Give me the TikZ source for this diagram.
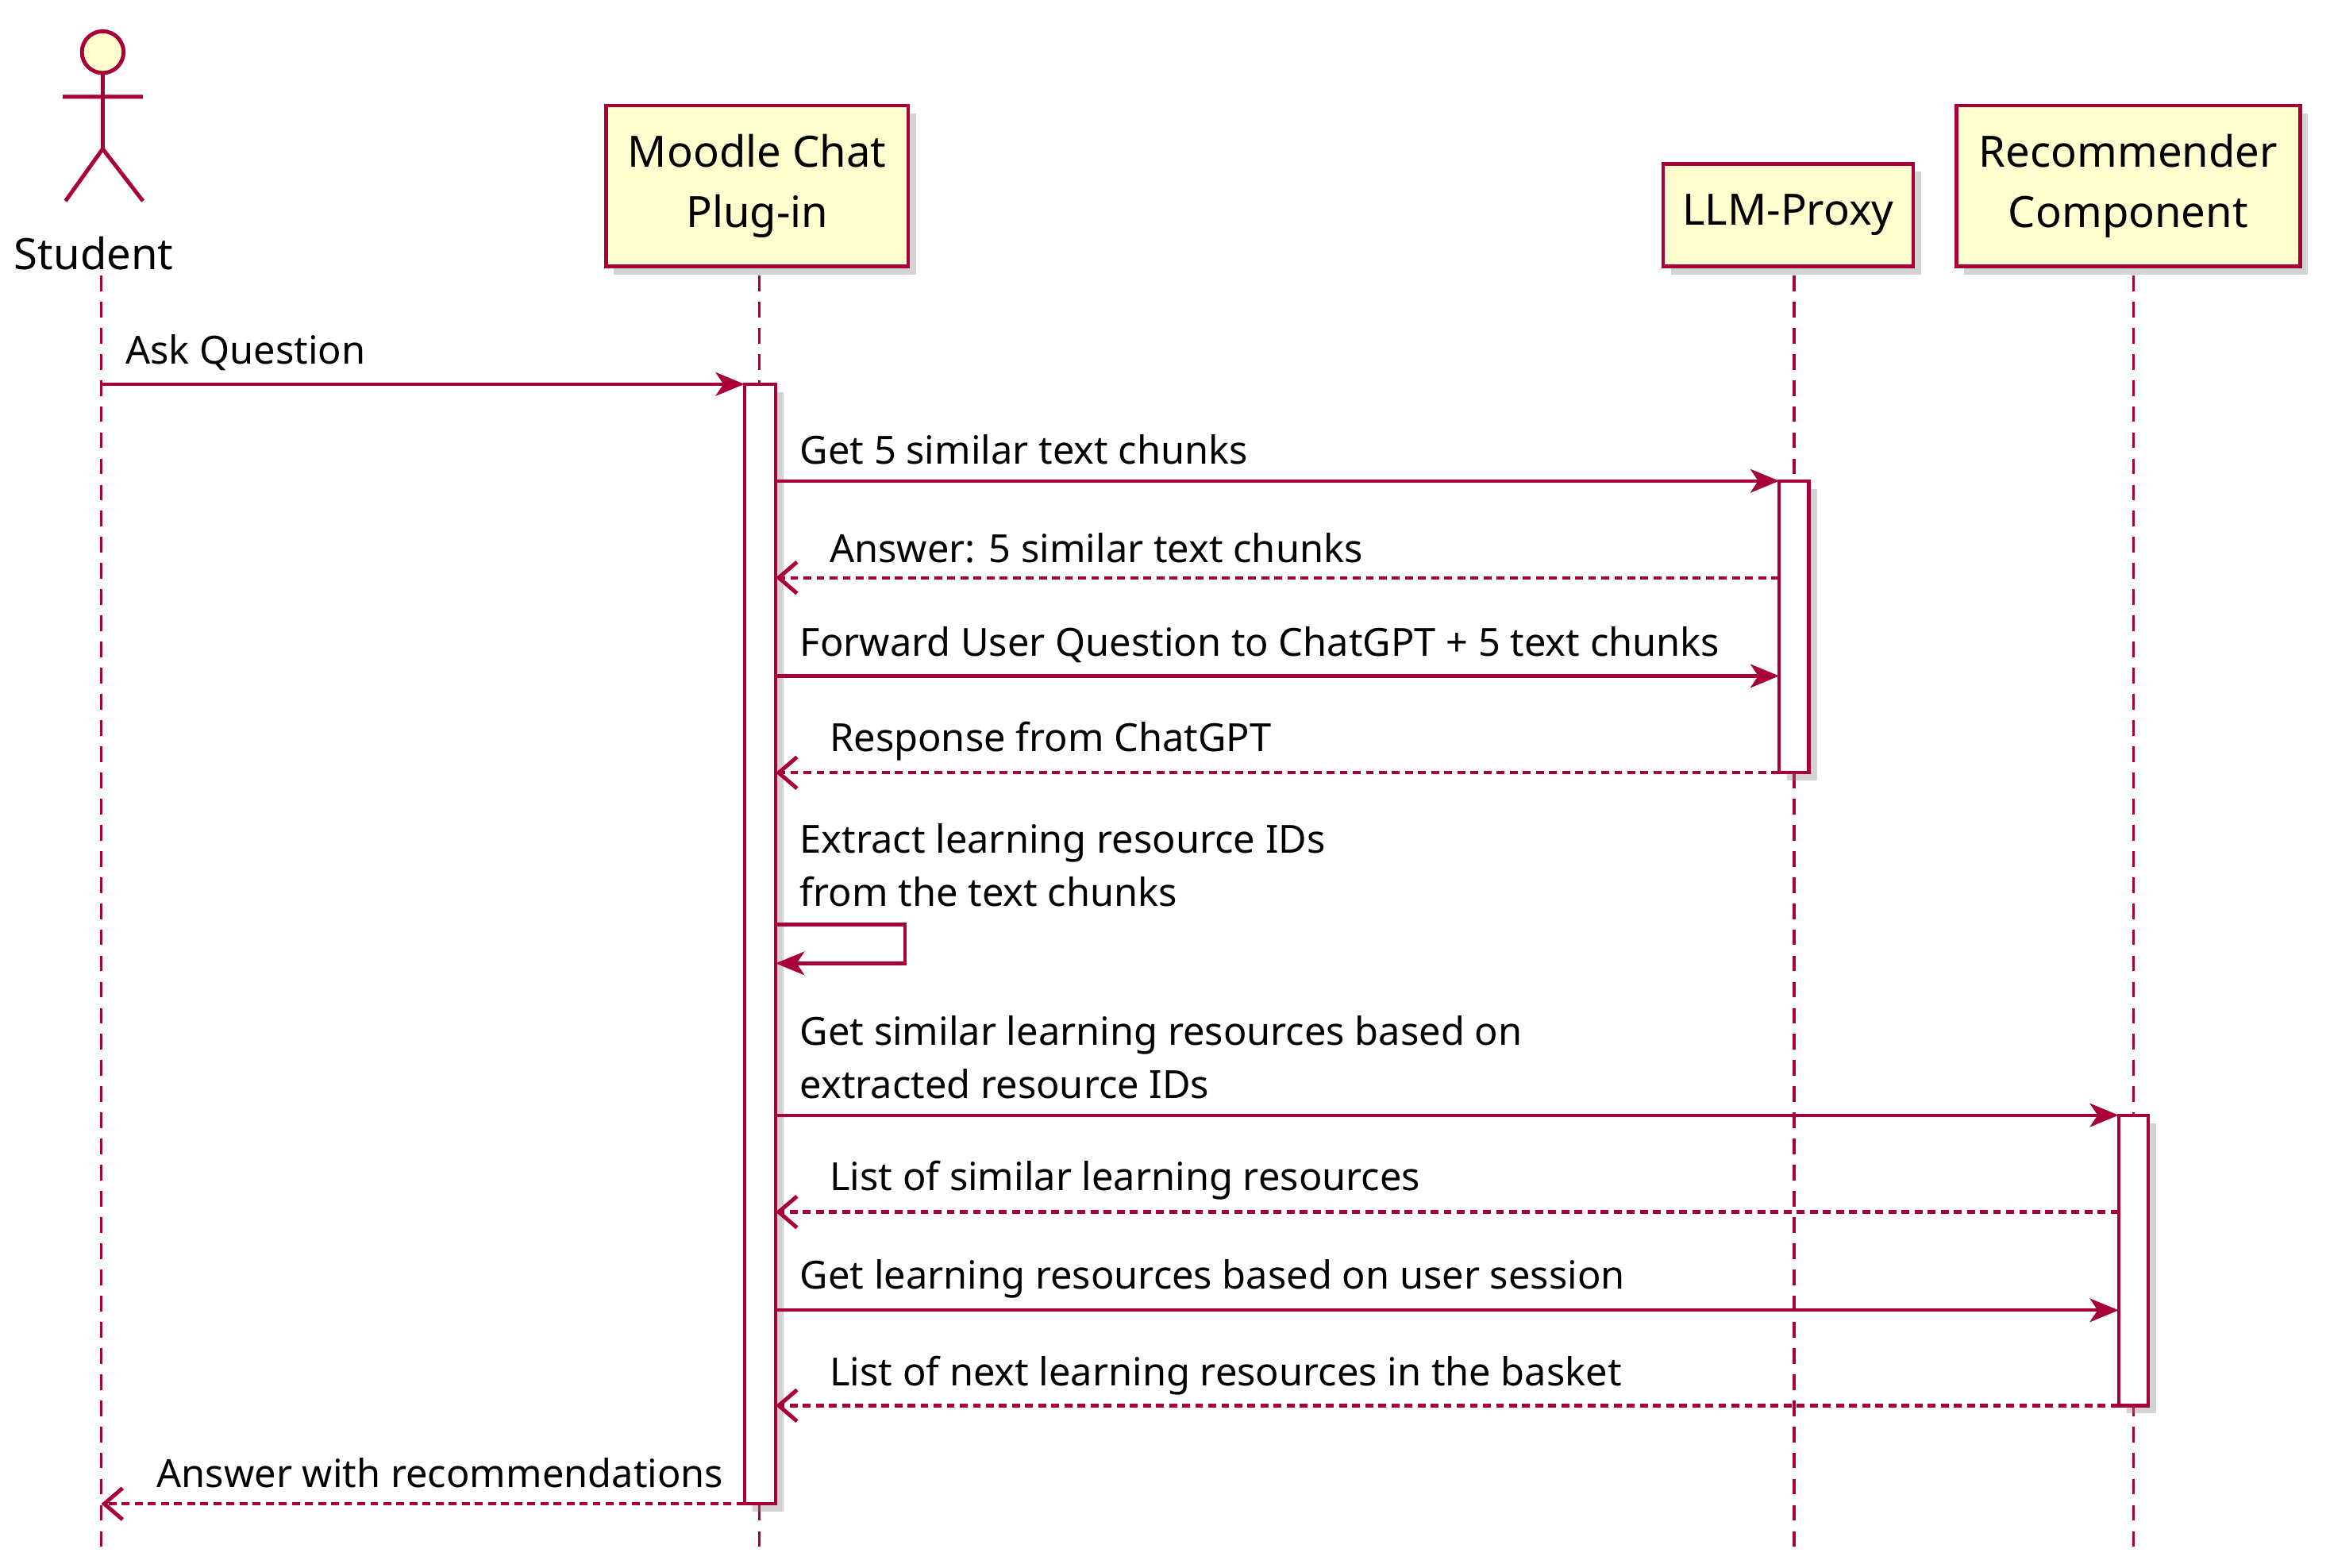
\documentclass[tikz,border=0pt]{standalone}
\usepackage{fontspec}
\setmainfont{Noto Sans}
\usetikzlibrary{arrows.meta,shadows}
\definecolor{bd}{HTML}{A80036}
\definecolor{bg}{HTML}{FEFECE}
\begin{document}
\begin{tikzpicture}[x=0.02cm,y=-0.02cm,
  part/.style={draw=bd,fill=bg,line width=1.4pt,drop shadow={opacity=0.35,shadow xshift=3pt,shadow yshift=-3pt},align=center,font=\fontsize{16.5}{23}\selectfont,inner sep=0pt},
  life/.style={draw=bd,line width=1pt,dash pattern=on 6pt off 4pt},
  act/.style={draw=bd,fill=white,line width=1.3pt,drop shadow={opacity=0.35,shadow xshift=3pt,shadow yshift=-3pt}},
  msg/.style={draw=bd,line width=1.3pt,-{Stealth[length=11pt,width=9pt,inset=3pt]}},
  ret/.style={draw=bd,line width=1.3pt,dash pattern=on 3pt off 2pt,-{Straight Barb[length=7pt,width=12pt,line width=1.5pt]}},
  lbl/.style={anchor=west,font=\fontsize{14.8}{20.5}\selectfont,inner sep=0pt,align=left}]
\useasboundingbox (0,0) rectangle (1565,1053);
% lifelines
\coordinate (s1) at (68,185); \coordinate (s2) at (68,1043);
\coordinate (m1) at (510,185); \coordinate (m2) at (510,1043);
\coordinate (l1) at (1205,185); \coordinate (l2) at (1205,1043);
\coordinate (r1) at (1433,185); \coordinate (r2) at (1433,1043);
\draw[life] (s1)--(s2); \draw[life] (m1)--(m2); \draw[life] (l1)--(l2); \draw[life] (r1)--(r2);
% actor
\draw[bd,line width=1.5pt,fill=bg] (69,35) circle (14);
\draw[bd,line width=1.5pt] (69,49)--(69,100) (42,65)--(96,65) (44,135)--(69,100)--(96,135);
\node[font=\fontsize{16.5}{20}\selectfont,inner sep=0pt] (student) at (63,170) {Student};
% participants
\node[part,minimum width=4.06cm,minimum height=2.16cm] (moodle) at (508.5,125) {Moodle Chat\\Plug-in};
\node[part,minimum width=3.36cm,minimum height=1.38cm] (llm) at (1201,144.5) {LLM-Proxy};
\node[part,minimum width=4.62cm,minimum height=2.16cm] (rec) at (1429.5,125) {Recommender\\Component};
% activations
\draw[act] (500,258) rectangle (521,1010);
\draw[act] (1195,323) rectangle (1215,519);
\draw[act] (1423,749) rectangle (1443,944);
% messages
\coordinate (a1) at (68,258); \coordinate (a2) at (500,258);
\draw[msg] (a1)--(a2); \node[lbl] (t1) at (84,237) {Ask Question};
\coordinate (b1) at (521,323); \coordinate (b2) at (1195,323);
\draw[msg] (b1)--(b2); \node[lbl] (t2) at (537,302) {Get 5 similar text chunks};
\coordinate (c1) at (1195,388); \coordinate (c2) at (521,388);
\draw[ret] (c1)--(c2); \node[lbl] (t3) at (557,368) {Answer: 5 similar text chunks};
\coordinate (d1) at (521,454); \coordinate (d2) at (1195,454);
\draw[msg] (d1)--(d2); \node[lbl] (t4) at (537,433) {Forward User Question to ChatGPT + 5 text chunks};
\coordinate (e1) at (1195,519); \coordinate (e2) at (521,519);
\draw[ret] (e1)--(e2); \node[lbl] (t5) at (557,498) {Response from ChatGPT};
\node[lbl] (t6) at (537,581) {Extract learning resource IDs\\from the text chunks};
\coordinate (f1) at (521,621); \coordinate (f2) at (521,647);
\draw[msg] (f1)--(608,621)--(608,647)--(f2);
\node[lbl] (t7) at (537,710) {Get similar learning resources based on\\extracted resource IDs};
\coordinate (g1) at (521,749); \coordinate (g2) at (1423,749);
\draw[msg] (g1)--(g2);
\coordinate (h1) at (1423,814); \coordinate (h2) at (521,814);
\draw[ret] (h1)--(h2); \node[lbl] (t8) at (557,793) {List of similar learning resources};
\coordinate (i1) at (521,880); \coordinate (i2) at (1423,880);
\draw[msg] (i1)--(i2); \node[lbl] (t9) at (537,859) {Get learning resources based on user session};
\coordinate (j1) at (1423,944); \coordinate (j2) at (521,944);
\draw[ret] (j1)--(j2); \node[lbl] (t10) at (557,924) {List of next learning resources in the basket};
\coordinate (k1) at (500,1010); \coordinate (k2) at (68,1010);
\draw[ret] (k1)--(k2); \node[lbl] (t11) at (105,989) {Answer with recommendations};
\end{tikzpicture}
\end{document}
